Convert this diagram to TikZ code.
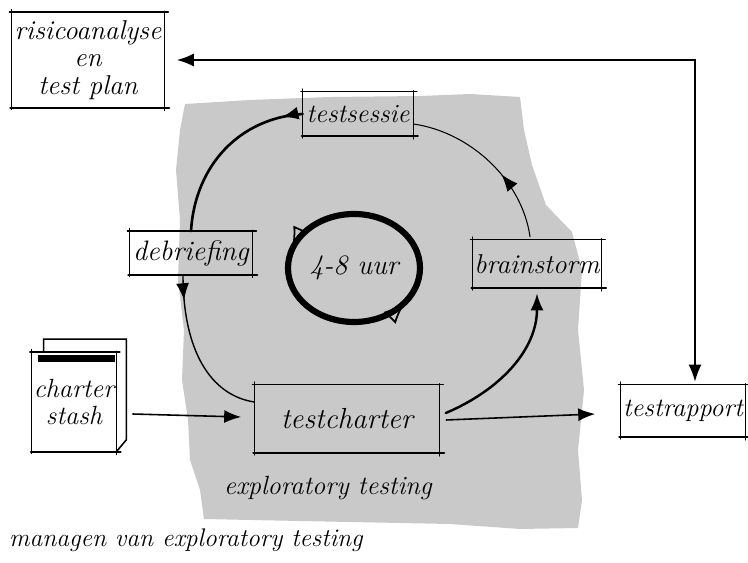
\documentclass[tikz,border=0pt]{standalone}
\usepackage{tikz}
\usetikzlibrary{arrows.meta,decorations.markings}
\definecolor{blobgray}{gray}{0.79}
\newcommand\hand[1][16]{\itshape\fontsize{#1}{15.5}\selectfont}
\tikzset{
  sketchline/.style={draw, line width=0.9pt, line cap=round},
  sketchbox/.style={font=\hand, align=center, inner sep=1pt,
    append after command={
      \pgfextra{\let\boxname\tikzlastnode}
      (\boxname.north west) edge[sketchline, shorten <=-1pt, shorten >=-2pt] (\boxname.north east)
      (\boxname.south west) edge[sketchline, line width=1.2pt, shorten <=-0.5pt, shorten >=-2.5pt] (\boxname.south east)
      (\boxname.north west) edge[sketchline, line width=0.7pt, shorten <=-1.5pt, shorten >=-1pt] (\boxname.south west)
      (\boxname.north east) edge[sketchline, line width=0.7pt, shorten <=-0.5pt, shorten >=-1.5pt] (\boxname.south east)
    }},
  arr/.style={-{Latex[length=3.4mm,width=2.6mm]}, line width=0.9pt},
  darr/.style={{Latex[length=3.4mm,width=2.6mm]}-{Latex[length=3.4mm,width=2.6mm]}, line width=0.9pt},
  midarr/.style={postaction={decorate}, decoration={markings,
      mark=at position #1 with {\arrow{Latex[length=3.4mm,width=2.6mm]}}}},
  cyc/.style={draw, line cap=round}
}
\begin{document}
\begin{tikzpicture}[x=0.02cm, y=-0.02cm]
  \useasboundingbox (0,0) rectangle (748,563);
  % grey area of the sessions
  \fill[blobgray] (185,104) -- (250,100) -- (330,97) -- (420,96) -- (470,94) -- (520,97)
    -- (524,130) -- (532,165) -- (546,205) -- (572,232) -- (582,270) -- (578,330)
    -- (584,390) -- (578,450) -- (582,500) -- (578,528) -- (520,529) -- (450,524)
    -- (350,522) -- (250,520) -- (204,519) -- (200,490) -- (190,460) -- (188,420)
    -- (182,380) -- (184,330) -- (178,280) -- (180,220) -- (176,170) -- (180,130) -- cycle;

  \node[sketchbox, font={\hand[15.5]}, minimum width=3.06cm, minimum height=1.9cm] (risico) at (88,60) {risicoanalyse\\en\\test plan};
  \node[sketchbox, font={\hand[15]}, minimum width=2.2cm, minimum height=0.88cm] (testsessie) at (358,114) {testsessie};
  \node[sketchbox, font={\hand[16]}, minimum width=2.46cm, minimum height=0.86cm] (debriefing) at (191,253) {debriefing};
  \node[sketchbox, font={\hand[15.5]}, minimum width=2.5cm, minimum height=0.96cm] (brainstorm) at (537,264) {brainstorm};
  \node[sketchbox, font={\hand[16.5]}, minimum width=3.7cm, minimum height=1.36cm] (testcharter) at (347,419) {testcharter};
  \node[sketchbox, font={\hand[15]}, minimum width=2.5cm, minimum height=1.04cm] (testrapport) at (683,411) {testrapport};
  \node[sketchbox, font={\hand[15]}, minimum width=1.64cm, minimum height=1.98cm] (stash) at (74,402) {charter\\stash};
  \node[font={\hand[16]}] (uur) at (354,268) {4-8 uur};
  \node[font={\hand[15]}] (explo) at (328,488) {exploratory testing};
  \node[font={\hand[14.5]}, anchor=west] (managen) at (3,540) {managen van exploratory testing};

  % stack behind the charter stash
  \draw[sketchline] ([shift={(12,0)}]stash.north west) -- ([shift={(12,-13)}]stash.north west)
    -- ([shift={(10,-13)}]stash.north east) -- ([shift={(10,-12)}]stash.south east) -- (stash.south east);
  \fill ([shift={(6,3)}]stash.north west) rectangle ([shift={(-1,10)}]stash.north east);

  % the 4-8 uur loop
  \draw[line width=3.5pt, postaction={decorate}, decoration={markings,
      mark=at position 0.45 with {\arrow[line width=1pt]{Latex[open,length=4.5mm,width=3.4mm]}},
      mark=at position 0.9 with {\arrow[line width=1pt]{Latex[open,length=4.5mm,width=3.4mm]}}}]
    (420,268) arc[start angle=0, end angle=-360, x radius=66, y radius=54];

  % the session cycle
  \draw[cyc, line width=1.5pt, midarr=0.12] (testsessie.west) .. controls (240,118) and (195,165) .. (debriefing.north);
  \draw[cyc, line width=0.8pt, midarr=0.16] ([shift={(-8,0)}]debriefing.south) .. controls (183,350) and (210,395) .. ([shift={(0,-17)}]testcharter.west);
  \draw[cyc, line width=1.4pt, -{Latex[length=3.4mm,width=2.6mm]}] ([shift={(6,-6)}]testcharter.east) .. controls (500,390) and (537,350) .. ([shift={(0,5)}]brainstorm.south);
  \draw[cyc, line width=0.6pt, midarr=0.4] ([shift={(-7,-3)}]brainstorm.north) .. controls (522,180) and (470,132) .. ([shift={(0,10)}]testsessie.east);

  % in and out
  \draw[arr] ([shift={(16,12)}]stash.east) -- ([shift={(-13,-2)}]testcharter.west);
  \draw[arr, shorten >=0.5cm] ([shift={(6,1)}]testcharter.east) -- ([shift={(0,2)}]testrapport.west);
  \coordinate (corner) at (695,60);
  \draw[darr, shorten <=0.24cm, shorten >=0.06cm] (risico.east) -- (corner) -- (corner |- testrapport.north);
\end{tikzpicture}
\end{document}
